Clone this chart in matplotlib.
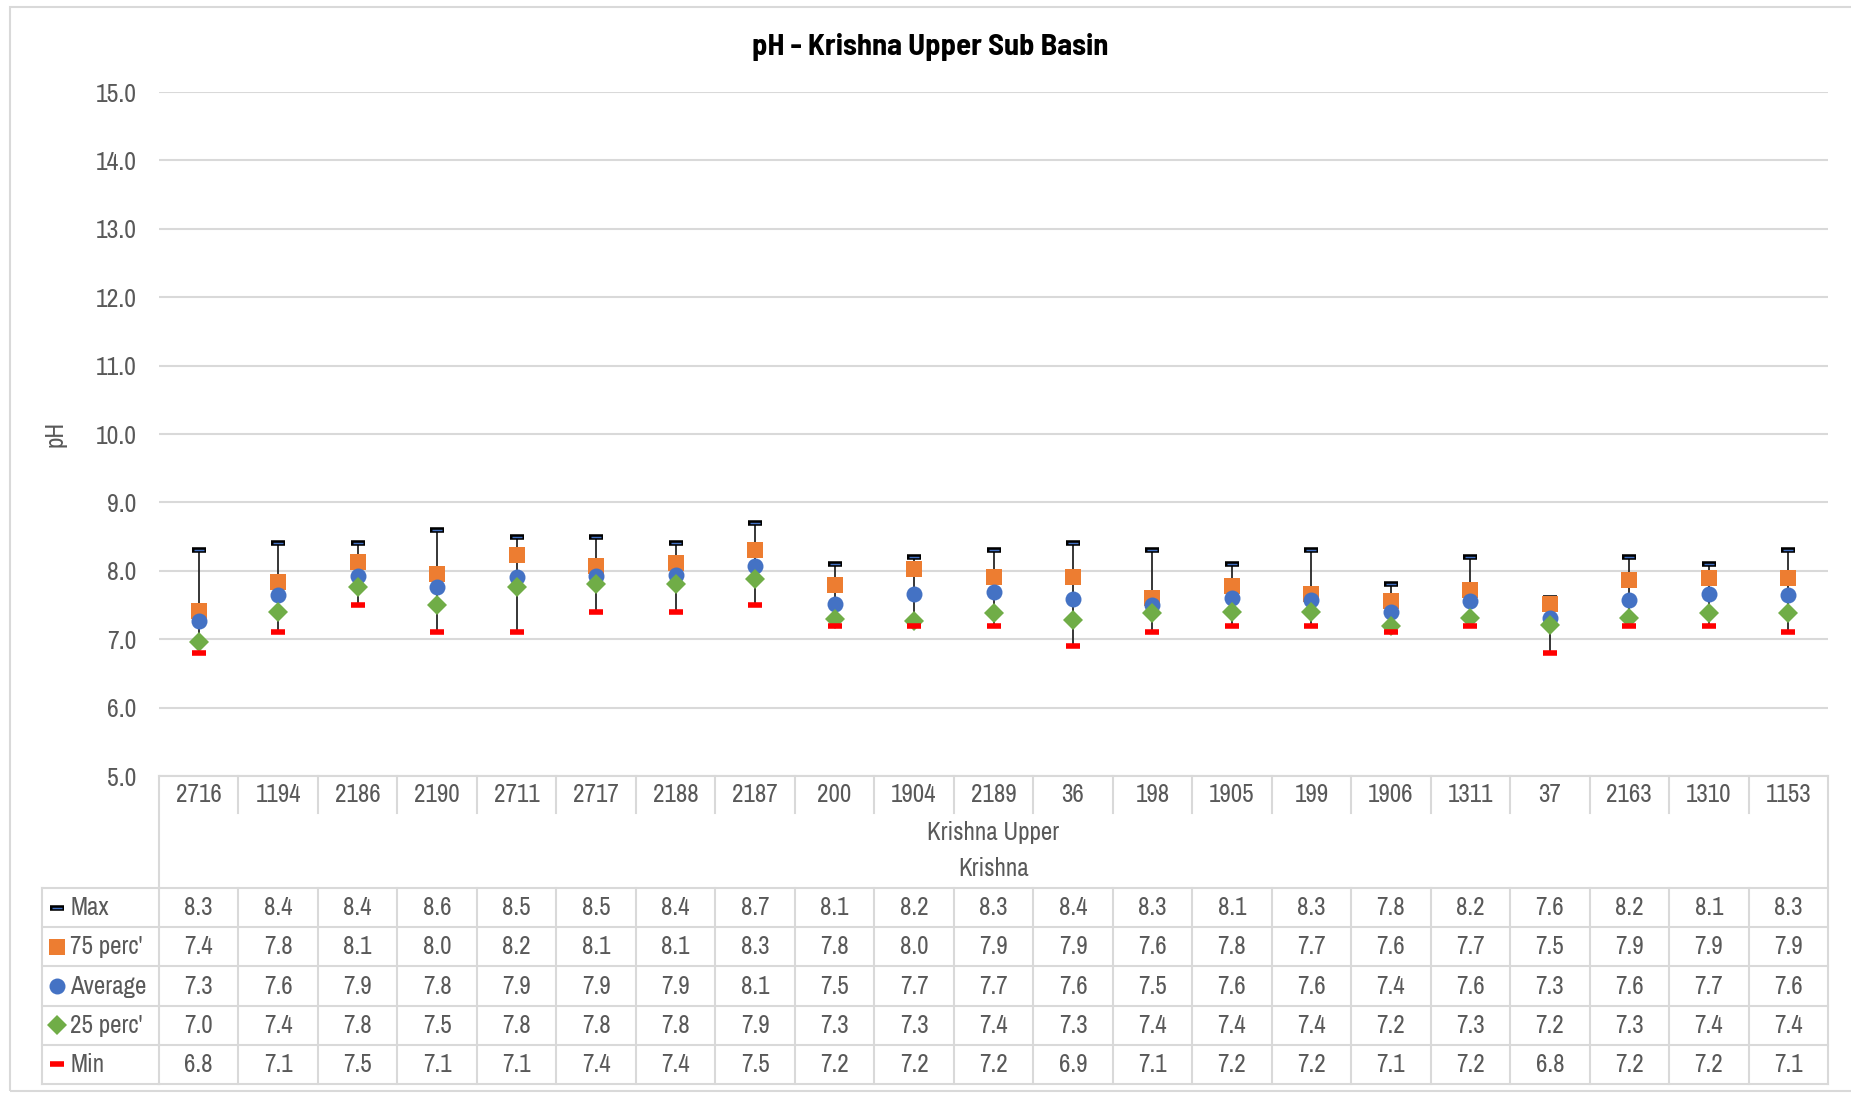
import matplotlib
matplotlib.use("Agg")
import matplotlib.pyplot as plt
import matplotlib.transforms as mtransforms
from matplotlib.lines import Line2D
from matplotlib.patches import Rectangle

FONT = ['Archivo Narrow', 'PT Sans Narrow', 'Liberation Sans', 'DejaVu Sans']
TITLE_FONT = ['Barlow Semi Condensed', 'Asap Condensed', 'Liberation Sans', 'DejaVu Sans']
plt.rcParams['font.family'] = FONT

stations = ["2716", "1194", "2186", "2190", "2711", "2717", "2188", "2187", "200", "1904",
            "2189", "36", "198", "1905", "199", "1906", "1311", "37", "2163", "1310", "1153"]
group_label = "Krishna Upper"
basin_label = "Krishna"

ph_max = [8.3, 8.4, 8.4, 8.6, 8.5, 8.5, 8.4, 8.7, 8.1, 8.2, 8.3, 8.4, 8.3, 8.1, 8.3, 7.8, 8.2, 7.6, 8.2, 8.1, 8.3]
ph_p75 = [7.41, 7.83, 8.13, 7.96, 8.23, 8.07, 8.11, 8.31, 7.79, 8.02, 7.91, 7.91, 7.60, 7.78, 7.66, 7.56, 7.72, 7.52, 7.86, 7.90, 7.90]
ph_avg = [7.27, 7.64, 7.93, 7.77, 7.91, 7.93, 7.94, 8.07, 7.52, 7.66, 7.69, 7.59, 7.50, 7.60, 7.57, 7.40, 7.56, 7.31, 7.58, 7.66, 7.64]
ph_p25 = [6.96, 7.40, 7.76, 7.50, 7.77, 7.80, 7.80, 7.88, 7.29, 7.27, 7.38, 7.28, 7.38, 7.40, 7.40, 7.19, 7.31, 7.21, 7.31, 7.38, 7.38]
ph_min = [6.8, 7.1, 7.5, 7.1, 7.1, 7.4, 7.4, 7.5, 7.2, 7.2, 7.2, 6.9, 7.1, 7.2, 7.2, 7.1, 7.2, 6.8, 7.2, 7.2, 7.1]
y_ticks = [5.0, 6.0, 7.0, 8.0, 9.0, 10.0, 11.0, 12.0, 13.0, 14.0, 15.0]

W, H = 1851, 1094
fig = plt.figure(figsize=(W / 100, H / 100), dpi=100)

def fx(px):
    return px / W

def fy(py):
    return 1 - py / H

ax_left, ax_right, ax_top, ax_bot = 159, 1828, 92, 776
ax = fig.add_axes([fx(ax_left), fy(ax_bot), fx(ax_right) - fx(ax_left), fy(ax_top) - fy(ax_bot)])

GRID = '#D9D9D9'
TXT = '#595959'
ORANGE = '#ED7D31'
BLUE = '#4472C4'
GREEN = '#70AD47'
RED = '#FF0000'
FS = 18

x = list(range(len(stations)))
ax.set_xlim(-0.5, len(stations) - 0.5)
ax.set_ylim(5, 15)
ax.set_yticks(y_ticks)
ax.set_yticklabels([f"{v:.1f}" for v in y_ticks], fontsize=FS + 0.5, color=TXT)
ax.set_xticks([])
ax.tick_params(axis='y', length=0, pad=16)
for s in ['top', 'right', 'left']:
    ax.spines[s].set_visible(False)
ax.spines['bottom'].set_color(GRID)
ax.spines['bottom'].set_linewidth(1.5)
ax.grid(axis='y', color=GRID, linewidth=1.5)
ax.set_axisbelow(True)
ax.set_ylabel('pH', fontsize=FS, color=TXT, labelpad=21)

# high-low lines
ax.vlines(x, ph_min, ph_max, color='#262626', linewidth=1.3, zorder=2)
# markers
ax.plot(x, ph_max, linestyle='none', marker='_', markersize=10, markeredgewidth=4, color='black', zorder=3)
ax.plot(x, ph_max, linestyle='none', marker='_', markersize=7.5, markeredgewidth=1.0, color=BLUE, zorder=3.1)
ax.plot(x, ph_p75, linestyle='none', marker='s', markersize=11, color=ORANGE, markeredgewidth=0, zorder=4)
ax.plot(x, ph_avg, linestyle='none', marker='o', markersize=11.5, color=BLUE, markeredgewidth=0, zorder=5)
ax.plot(x, ph_p25, linestyle='none', marker='D', markersize=10, color=GREEN, markeredgewidth=0, zorder=6)
ax.plot(x, ph_min, linestyle='none', marker='_', markersize=10, markeredgewidth=4, color=RED, zorder=7)

fig.text(fx(930), fy(47), 'pH - Krishna Upper Sub Basin', ha='center', va='center',
         fontsize=22, fontweight='bold', color='black', family=TITLE_FONT)

# ----- data table below the axes -----
tr = mtransforms.blended_transform_factory(ax.transData, fig.transFigure)
lw = 1.5
n = len(stations)
xl, xr = -0.5, n - 0.5
cat_top, cat_sep_bot = 776, 813
tbl_top = 888
row_h = 39.2
rows = 5
tbl_bot = tbl_top + rows * row_h

def hline_data(y_px, x0, x1):
    fig.add_artist(Line2D([x0, x1], [fy(y_px), fy(y_px)], transform=tr, color=GRID, linewidth=lw))

def vline_data(xd, y0, y1):
    fig.add_artist(Line2D([xd, xd], [fy(y0), fy(y1)], transform=tr, color=GRID, linewidth=lw))

# category row
for i in range(n + 1):
    xd = i - 0.5
    if i == 0 or i == n:
        vline_data(xd, cat_top, tbl_bot)
    else:
        vline_data(xd, cat_top, cat_sep_bot)
        vline_data(xd, tbl_top, tbl_bot)
for i, s in enumerate(stations):
    fig.text(i, fy(795), s, transform=tr, ha='center', va='center', fontsize=FS, color=TXT)
mid = (n - 1) / 2
fig.text(mid, fy(833), group_label, transform=tr, ha='center', va='center', fontsize=FS, color=TXT)
fig.text(mid, fy(869), basin_label, transform=tr, ha='center', va='center', fontsize=FS, color=TXT)

# horizontal table lines
leg_left = 42
for r in range(rows + 1):
    yp = tbl_top + r * row_h
    fig.add_artist(Line2D([fx(leg_left), fx(ax_left)], [fy(yp), fy(yp)], transform=fig.transFigure,
                          color=GRID, linewidth=lw))
    hline_data(yp, xl, xr)
fig.add_artist(Line2D([fx(leg_left), fx(leg_left)], [fy(tbl_top), fy(tbl_bot)], transform=fig.transFigure,
                      color=GRID, linewidth=lw))

series = [("Max", ph_max), ("75 perc'", ph_p75), ("Average", ph_avg), ("25 perc'", ph_p25), ("Min", ph_min)]
for r, (name, vals) in enumerate(series):
    yc = tbl_top + (r + 0.5) * row_h
    for i, v in enumerate(vals):
        fig.text(i, fy(yc), f"{v:.1f}", transform=tr, ha='center', va='center', fontsize=FS, color=TXT)
    fig.text(fx(70), fy(yc), name, ha='left', va='center', fontsize=FS, color=TXT)

# legend keys
kx = fx(57)
def key(yc, **kw):
    fig.add_artist(Line2D([kx], [fy(yc)], transform=fig.transFigure, linestyle='none', **kw))
ys = [tbl_top + (r + 0.5) * row_h for r in range(rows)]
key(ys[0], marker='_', markersize=10, markeredgewidth=4, color='black')
key(ys[0], marker='_', markersize=7.5, markeredgewidth=1.0, color=BLUE)
key(ys[1], marker='s', markersize=11, color=ORANGE, markeredgewidth=0)
key(ys[2], marker='o', markersize=11.5, color=BLUE, markeredgewidth=0)
key(ys[3], marker='D', markersize=10, color=GREEN, markeredgewidth=0)
key(ys[4], marker='_', markersize=10, markeredgewidth=4, color=RED)

# outer chart border
fig.add_artist(Rectangle((fx(10), fy(1091)), fx(W + 20) - fx(10), fy(7) - fy(1091),
                         transform=fig.transFigure, fill=False, edgecolor=GRID, linewidth=1.5))

fig.savefig('out.png', dpi=100)
